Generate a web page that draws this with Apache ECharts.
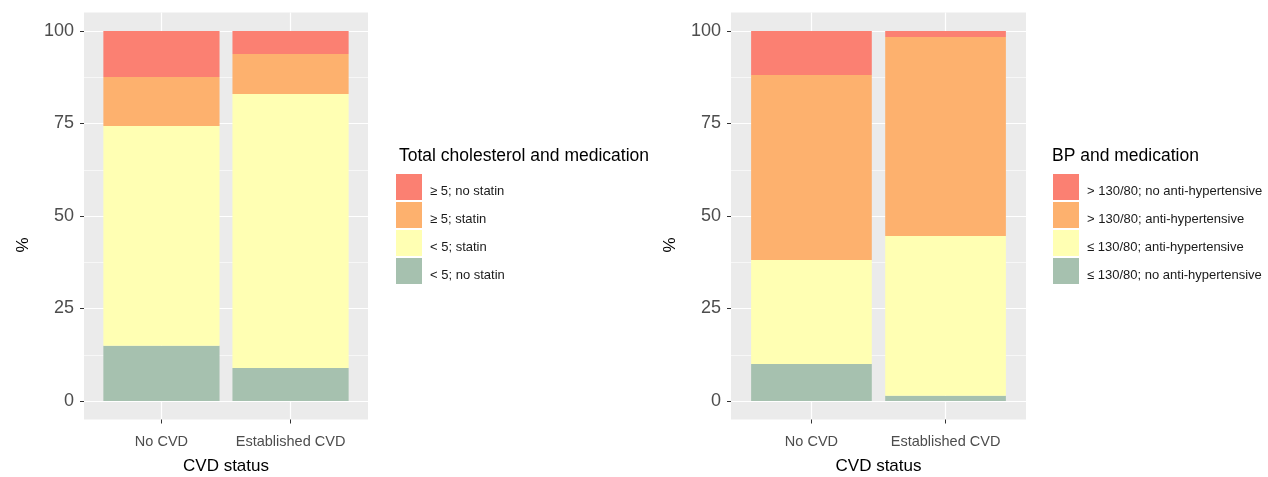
<!DOCTYPE html>
<html><head><meta charset="utf-8">
<script src="https://cdn.jsdelivr.net/npm/echarts@6/dist/echarts.min.js"></script>
<style>html,body{margin:0;padding:0;background:#fff}#c{width:1268px;height:477px}</style>
</head><body><div id="c"></div>
<script>
const categories = ['No CVD', 'Established CVD'];
const yTicks = [0, 25, 50, 75, 100];

// Total cholesterol panel (bottom to top of stack)
const cholNames = ['< 5; no statin', '< 5; statin', '≥ 5; statin', '≥ 5; no statin'];
const cholLowNoStatin = [14.9, 8.9];
const cholLowStatin = [59.4, 74.1];
const cholHighStatin = [13.3, 10.8];
const cholHighNoStatin = [12.4, 6.2];

// BP panel (bottom to top of stack)
const bpNames = ['≤ 130/80; no anti-hypertensive', '≤ 130/80; anti-hypertensive', '> 130/80; anti-hypertensive', '> 130/80; no anti-hypertensive'];
const bpLowNoMed = [10.0, 1.4];
const bpLowMed = [28.1, 43.2];
const bpHighMed = [50.0, 53.8];
const bpHighNoMed = [11.9, 1.6];

const stackColors = ['#A6C1AF', '#FFFFB3', '#FDB16E', '#FB8072'];
const FONT = 'Liberation Sans, Arial, sans-serif';

const chart = echarts.init(document.getElementById('c'), null, {renderer: 'canvas'});

const panels = [
  {L: 84, W: 284, names: cholNames, values: [cholLowNoStatin, cholLowStatin, cholHighStatin, cholHighNoStatin],
   legendTitle: 'Total cholesterol and medication', legendLeft: 396, titleLeft: 399, pctX: 23},
  {L: 731, W: 295, names: bpNames, values: [bpLowNoMed, bpLowMed, bpHighMed, bpHighNoMed],
   legendTitle: 'BP and medication', legendLeft: 1053, titleLeft: 1052, pctX: 670}
];
const PANEL_TOP = 12.5, PANEL_H = 407, DATA_TOP = 31, DATA_H = 370;

const grid = [], xAxis = [], yAxis = [], series = [], legend = [], title = [], graphic = [];
panels.forEach((p, i) => {
  const u = p.W / 2.2;
  const gA = grid.length;
  // background panel
  grid.push({left: p.L, top: PANEL_TOP, width: p.W, height: PANEL_H, show: true, backgroundColor: '#EBEBEB', borderWidth: 0, z: 0,
    containLabel: false, outerBoundsMode: 'none'});
  xAxis.push({gridIndex: gA, type: 'value', show: false, min: 0, max: 1});
  yAxis.push({gridIndex: gA, type: 'value', show: false, min: 0, max: 1});
  // y axis grid
  const gB = grid.length;
  grid.push({left: p.L, top: DATA_TOP, width: p.W, height: DATA_H, show: false, containLabel: false, outerBoundsMode: 'none'});
  xAxis.push({gridIndex: gB, type: 'value', show: false, min: 0, max: 1});
  yAxis.push({gridIndex: gB, type: 'value', min: 0, max: 100, interval: 25, z: 1,
    axisLine: {show: false},
    axisTick: {show: true, length: 4, lineStyle: {color: '#333', width: 1}},
    axisLabel: {fontFamily: FONT, fontSize: 18, color: '#4D4D4D', margin: 10,
      customValues: yTicks},
    splitLine: {show: true, lineStyle: {color: '#fff', width: 1.2}},
    minorTick: {show: false, splitNumber: 2},
    minorSplitLine: {show: true, lineStyle: {color: '#fff', width: 0.6}}
  });
  // bars grid
  const gC = grid.length;
  grid.push({left: p.L + 0.1 * u, top: PANEL_TOP, width: 2 * u, height: PANEL_H, show: false, containLabel: false, outerBoundsMode: 'none'});
  xAxis.push({gridIndex: gC, type: 'category', data: categories, boundaryGap: true, z: 1,
    name: 'CVD status', nameLocation: 'middle', nameGap: 38, nameMoveOverlap: false,
    nameTextStyle: {fontFamily: FONT, fontSize: 17, color: '#000'},
    axisLine: {show: false, onZero: false},
    axisTick: {show: true, alignWithLabel: true, interval: 0, length: 4, lineStyle: {color: '#333', width: 1}},
    axisLabel: {fontFamily: FONT, fontSize: 14.5, color: '#4D4D4D', margin: 15, interval: 0},
    splitLine: {show: true, alignWithLabel: true, interval: 0, lineStyle: {color: '#fff', width: 1.2}}
  });
  yAxis.push({gridIndex: gC, type: 'value', show: false, min: -5, max: 105});
  p.names.forEach((nm, k) => {
    series.push({type: 'bar', name: nm, xAxisIndex: gC, yAxisIndex: gC, stack: 'p' + i,
      barWidth: 0.9 * u, data: p.values[k], itemStyle: {color: stackColors[k]},
      emphasis: {disabled: true}, z: 2});
  });
  legend.push({orient: 'vertical', left: p.legendLeft, top: 174, itemWidth: 26, itemHeight: 26, itemGap: 2,
    icon: 'rect', selectedMode: false, padding: 0,
    data: p.names.slice().reverse(),
    formatter: '{a|{name}}',
    textStyle: {fontFamily: FONT, fontSize: 13, color: '#1A1A1A',
      rich: {a: {fontFamily: FONT, fontSize: 13, color: '#1A1A1A', padding: [9, 0, 0, 3]}}}});
  title.push({text: p.legendTitle, left: p.titleLeft, top: 147, padding: 0,
    textStyle: {fontFamily: FONT, fontSize: 17.5, fontWeight: 'normal', color: '#000'}});
  graphic.push({type: 'text', x: p.pctX, y: 245, rotation: Math.PI / 2,
    style: {text: '%', font: '17px ' + FONT, fill: '#000', textAlign: 'center', textVerticalAlign: 'middle'}});
});

chart.setOption({animation: false, backgroundColor: '#fff', grid, xAxis, yAxis, series, legend, title, graphic});
</script></body></html>
